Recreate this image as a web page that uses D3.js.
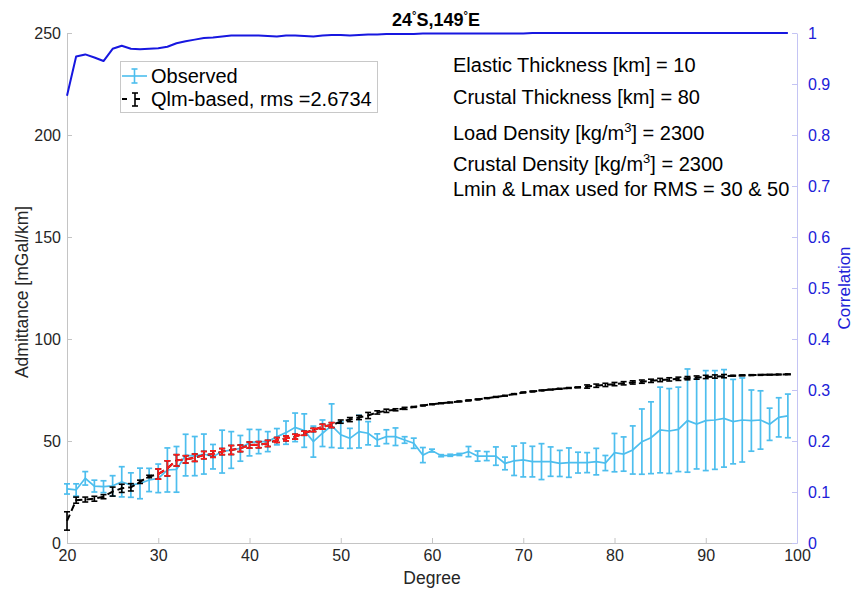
<!DOCTYPE html>
<html>
<head>
<meta charset="utf-8">
<script src="https://cdn.jsdelivr.net/npm/d3@7"></script>
<style>
  html, body { margin: 0; padding: 0; background: #fff; }
  svg { display: block; font-family: "Liberation Sans", Arial, Helvetica, sans-serif; }
</style>
</head>
<body>
<svg id="chart" width="855" height="591"></svg>
<script>
// Spherical-harmonic degrees shown on the x axis
const degrees = d3.range(20, 100);

// Observed admittance [mGal/km] and its error
const observed = [26.5, 26, 31.7, 27.9, 27.6, 28, 30, 28.4, 29.2, 30.9,
  31.7, 35.8, 36.1, 43.1, 42.6, 43.6, 42.3, 44.8, 45.6, 46.4,
  49.2, 49.7, 49.7, 52.1, 54.1, 56.7, 55.1, 49.7, 53.8, 57.5,
  53, 51.3, 54.6, 53.8, 50.5, 52.1, 52.1, 50.5, 48.9, 43.1,
  45.3, 42.8, 43, 43.4, 44.8, 42.6, 42.6, 42.6, 39, 40.3,
  40.7, 39.9, 39.9, 39.9, 39, 39.4, 39.4, 39.4, 39.9, 39.2,
  44.3, 43.6, 45.6, 49.7, 51.6, 55.4, 54.9, 55.7, 60, 58.3,
  60, 60.3, 61.1, 59.5, 60.3, 60, 60.3, 58.2, 61.6, 62.3];
const observedErr = [2.5, 3, 3.3, 2.9, 2.9, 5, 7.4, 6, 7.5, 5.7,
  7, 10.8, 11.2, 10.2, 9.6, 9.8, 6, 10.5, 9, 6.3,
  6.5, 5.9, 4.9, 4, 5.7, 7, 8.2, 7.6, 6.5, 10.7,
  6.5, 4.9, 8, 5.7, 3, 3.4, 4.3, 1.6, 2.5, 3.7,
  0.7, 0.5, 0.5, 0.5, 2.5, 2.5, 2.2, 4.5, 3.1, 7.2,
  8.3, 7.5, 8.8, 7.2, 6.4, 7.2, 5.1, 4.9, 6.5, 3.7,
  9.4, 8.4, 11.8, 16, 17.6, 21, 20.8, 20.7, 25.3, 22,
  24.5, 24.2, 23.9, 20.7, 20.6, 15, 14.3, 7.9, 9.6, 10.7];

// Qlm-based model admittance and its error
const model = [10.8, 21, 21.3, 21.7, 22.7, 25.2, 26.8, 27.3, 30, 32.6,
  33.8, 36.6, 40.5, 41, 41.8, 43.1, 43.6, 44.8, 45.6, 46.4,
  48, 48.2, 48.8, 50.5, 51.3, 52.1, 53.8, 55.4, 57, 57.8,
  59.5, 60.5, 61.5, 62.5, 64, 64.8, 65.3, 66, 66.7, 67.4,
  68, 68.5, 68.9, 69.4, 69.9, 70.4, 71, 71.6, 72.2, 73,
  73.8, 74.3, 74.8, 75.2, 75.6, 76, 76.3, 76.7, 77.1, 77.5,
  77.9, 78.3, 78.7, 79.1, 79.5, 79.9, 80.2, 80.5, 80.8, 81.1,
  81.4, 81.6, 81.8, 82, 82.2, 82.3, 82.4, 82.5, 82.6, 82.7];
const modelErr = [4.5, 1.5, 1.2, 1.2, 1, 2.2, 2, 1.8, 0.8, 0.6,
  2.5, 3.7, 2.8, 1.8, 1.8, 1.8, 1.6, 1.5, 2.2, 1.6,
  1.5, 1.5, 1.5, 1.2, 1.2, 1.2, 1, 0.8, 1.2, 1.2,
  0.8, 1, 1, 1.5, 0.8, 0.8, 0.5, 0.5, 0.2, 0.2,
  0.2, 0.2, 0.2, 0.2, 0.2, 0.2, 0.2, 0.2, 0.2, 0.2,
  0.2, 0.2, 0.2, 0.2, 0.2, 0.2, 0.2, 0.8, 0.8, 0.8,
  0.8, 0.8, 0.8, 0.8, 0.8, 0.8, 0.8, 0.8, 0.8, 0.8,
  0.8, 0.8, 0.8, 0.2, 0.2, 0.2, 0.2, 0.2, 0.2, 0.2];

// Degree window used for the RMS misfit
const rmsRange = [30, 49];

// Correlation between gravity and topography
const correlation = [0.877, 0.954, 0.958, 0.952, 0.945, 0.969, 0.975, 0.969, 0.968, 0.969,
  0.970, 0.973, 0.980, 0.984, 0.987, 0.990, 0.991, 0.993, 0.995, 0.995,
  0.995, 0.995, 0.994, 0.993, 0.995, 0.995, 0.994, 0.993, 0.995, 0.996,
  0.996, 0.995, 0.996, 0.997, 0.997, 0.998, 0.998, 0.998, 0.998, 0.999,
  0.999, 0.999, 0.999, 0.999, 0.999, 0.999, 0.999, 0.999, 0.999, 0.999,
  0.999, 1, 1, 1, 1, 1, 1, 1, 1, 1,
  1, 1, 1, 1, 1, 1, 1, 1, 1, 1,
  1, 1, 1, 1, 1, 1, 1, 1, 1, 1];

// Axis ticks
const xTicks = [20, 30, 40, 50, 60, 70, 80, 90, 100];
const yLeftTicks = [0, 50, 100, 150, 200, 250];
const yRightTicks = [0, 0.1, 0.2, 0.3, 0.4, 0.5, 0.6, 0.7, 0.8, 0.9, 1];

// Model parameters printed inside the axes
const paramLines = [
  ["Elastic Thickness [km] = 10"],
  ["Crustal Thickness [km] = 80"],
  ["Load Density [kg/m", "3", "] = 2300"],
  ["Crustal Density [kg/m", "3", "] = 2300"],
  ["Lmin & Lmax used for RMS = 30 & 50"]
];

const C = {
  obs: "#4dbeee",
  model: "#000000",
  rms: "#ff1a1a",
  corr: "#1717e0",
  corrText: "#2020d8",
  corrAxis: "#c4c4f4",
  axis: "#c4c4c4",
  text: "#262626"
};

const svg = d3.select("#chart");
const plot = { left: 67, right: 797, top: 33, bottom: 543 };

const x = d3.scaleLinear().domain([20, 100]).range([plot.left, plot.right]);
const yL = d3.scaleLinear().domain([0, 250]).range([plot.bottom, plot.top]);
const yR = d3.scaleLinear().domain([0, 1]).range([plot.bottom, plot.top]);

// ---- axes ----
function styleAxis(g, lineColor, textColor) {
  g.select(".domain").attr("stroke", lineColor).attr("stroke-width", 1);
  g.selectAll(".tick line").attr("stroke", lineColor).attr("stroke-width", 1);
  g.selectAll(".tick text").attr("fill", textColor).style("font-size", "16px")
    .style("font-family", "'Liberation Sans', Arial, sans-serif");
}

const xAxis = svg.append("g")
  .attr("transform", `translate(0,${plot.bottom})`)
  .call(d3.axisBottom(x).tickValues(xTicks).tickFormat(d3.format("d"))
    .tickSizeInner(-5).tickSizeOuter(0).tickPadding(7));
styleAxis(xAxis, C.axis, C.text);

const yAxisL = svg.append("g")
  .attr("transform", `translate(${plot.left},0)`)
  .call(d3.axisLeft(yL).tickValues(yLeftTicks).tickFormat(d3.format("d"))
    .tickSizeInner(-5).tickSizeOuter(0).tickPadding(6));
styleAxis(yAxisL, C.axis, C.text);

const yAxisR = svg.append("g")
  .attr("transform", `translate(${plot.right},0)`)
  .call(d3.axisRight(yR).tickValues(yRightTicks).tickFormat(d => d === 0 || d === 1 ? d3.format("d")(d) : d3.format(".1f")(d))
    .tickSizeInner(-5).tickSizeOuter(0).tickPadding(11));
styleAxis(yAxisR, C.corrAxis, C.corrText);

// axis titles
svg.append("text")
  .attr("x", (plot.left + plot.right) / 2).attr("y", 584)
  .attr("text-anchor", "middle").attr("fill", C.text)
  .style("font-size", "17.5px").text("Degree");

svg.append("text")
  .attr("transform", `translate(28,${(plot.top + plot.bottom) / 2 + 4}) rotate(-90)`)
  .attr("text-anchor", "middle").attr("fill", C.text)
  .style("font-size", "17.5px").text("Admittance [mGal/km]");

svg.append("text")
  .attr("transform", `translate(850,${(plot.top + plot.bottom) / 2}) rotate(-90)`)
  .attr("text-anchor", "middle").attr("fill", C.corrText)
  .style("font-size", "17px").text("Correlation");

// title with degree marks
const title = svg.append("text")
  .attr("x", 436).attr("y", 26)
  .attr("text-anchor", "middle").attr("fill", "#000")
  .style("font-size", "18px").style("font-weight", "bold");
[["24", false], ["°", true], ["S,149", false], ["°", true], ["E", false]].forEach(([t, sup]) => {
  const ts = title.append("tspan").text(t);
  if (sup) ts.attr("dy", -7).style("font-size", "11px");
  else ts.attr("dy", t === "24" ? 0 : 7);
});

// ---- data marks ----
const rows = degrees.map((d, i) => ({
  d, obs: observed[i], obsErr: observedErr[i],
  mod: model[i], modErr: modelErr[i], corr: correlation[i]
}));

const capHalf = 3;

function errorBars(g, data, key, errKey, color, width) {
  const sel = g.selectAll(null).data(data).enter().append("g");
  sel.append("line")
    .attr("x1", r => x(r.d)).attr("x2", r => x(r.d))
    .attr("y1", r => yL(r[key] - r[errKey])).attr("y2", r => yL(r[key] + r[errKey]))
    .attr("stroke", color).attr("stroke-width", width);
  sel.append("line")
    .attr("x1", r => x(r.d) - capHalf).attr("x2", r => x(r.d) + capHalf)
    .attr("y1", r => yL(r[key] + r[errKey])).attr("y2", r => yL(r[key] + r[errKey]))
    .attr("stroke", color).attr("stroke-width", width);
  sel.append("line")
    .attr("x1", r => x(r.d) - capHalf).attr("x2", r => x(r.d) + capHalf)
    .attr("y1", r => yL(r[key] - r[errKey])).attr("y2", r => yL(r[key] - r[errKey]))
    .attr("stroke", color).attr("stroke-width", width);
}

// correlation curve (right axis)
svg.append("path")
  .datum(rows)
  .attr("fill", "none").attr("stroke", C.corr).attr("stroke-width", 2)
  .attr("stroke-linejoin", "round")
  .attr("d", d3.line().x(r => x(r.d)).y(r => yR(r.corr)));

// observed admittance
const gObs = svg.append("g");
gObs.append("path")
  .datum(rows)
  .attr("fill", "none").attr("stroke", C.obs).attr("stroke-width", 1.7)
  .attr("d", d3.line().x(r => x(r.d)).y(r => yL(r.obs)));
errorBars(gObs, rows, "obs", "obsErr", C.obs, 1.7);

// model admittance, whole range
const gMod = svg.append("g");
gMod.append("path")
  .datum(rows)
  .attr("fill", "none").attr("stroke", C.model).attr("stroke-width", 2)
  .attr("stroke-dasharray", "7,4")
  .attr("d", d3.line().x(r => x(r.d)).y(r => yL(r.mod)));
errorBars(gMod, rows, "mod", "modErr", C.model, 1.6);

// model admittance inside the RMS window
const rmsRows = rows.filter(r => r.d >= rmsRange[0] && r.d <= rmsRange[1]);
const gRms = svg.append("g");
gRms.append("path")
  .datum(rmsRows)
  .attr("fill", "none").attr("stroke", C.rms).attr("stroke-width", 2)
  .attr("stroke-dasharray", "7,4")
  .attr("d", d3.line().x(r => x(r.d)).y(r => yL(r.mod)));
errorBars(gRms, rmsRows, "mod", "modErr", C.rms, 1.6);

// ---- legend ----
const lg = svg.append("g");
lg.append("rect")
  .attr("x", 120.5).attr("y", 61.5).attr("width", 257).attr("height", 51)
  .attr("fill", "#fff").attr("stroke", "#c8c8c8").attr("stroke-width", 1);

// observed entry
lg.append("line").attr("x1", 122).attr("x2", 147).attr("y1", 76).attr("y2", 76)
  .attr("stroke", C.obs).attr("stroke-width", 1.6);
lg.append("line").attr("x1", 134.5).attr("x2", 134.5).attr("y1", 69).attr("y2", 83)
  .attr("stroke", C.obs).attr("stroke-width", 1.6);
[69, 83].forEach(yy => lg.append("line").attr("x1", 131.5).attr("x2", 137.5)
  .attr("y1", yy).attr("y2", yy).attr("stroke", C.obs).attr("stroke-width", 1.6));
lg.append("text").attr("x", 151).attr("y", 83).attr("fill", "#000")
  .style("font-size", "20px").text("Observed");

// model entry
lg.append("line").attr("x1", 122).attr("x2", 127).attr("y1", 99).attr("y2", 99)
  .attr("stroke", C.model).attr("stroke-width", 2);
lg.append("line").attr("x1", 135).attr("x2", 135).attr("y1", 93).attr("y2", 106)
  .attr("stroke", C.model).attr("stroke-width", 1.6);
[93, 106].forEach(yy => lg.append("line").attr("x1", 132).attr("x2", 138)
  .attr("y1", yy).attr("y2", yy).attr("stroke", C.model).attr("stroke-width", 1.6));
lg.append("line").attr("x1", 135).attr("x2", 140).attr("y1", 99).attr("y2", 99)
  .attr("stroke", C.model).attr("stroke-width", 2);
lg.append("text").attr("x", 151).attr("y", 106).attr("fill", "#000")
  .style("font-size", "20px").text("Qlm-based, rms =2.6734");

// ---- parameter annotation ----
const baselines = [72, 104, 140, 171, 196];
paramLines.forEach((parts, i) => {
  const t = svg.append("text").attr("x", 453).attr("y", baselines[i])
    .attr("fill", "#000").style("font-size", "20px");
  if (parts.length === 1) { t.text(parts[0]); return; }
  t.append("tspan").text(parts[0]);
  t.append("tspan").attr("dy", -8).style("font-size", "13px").text(parts[1]);
  t.append("tspan").attr("dy", 8).text(parts[2]);
});
</script>
</body>
</html>
